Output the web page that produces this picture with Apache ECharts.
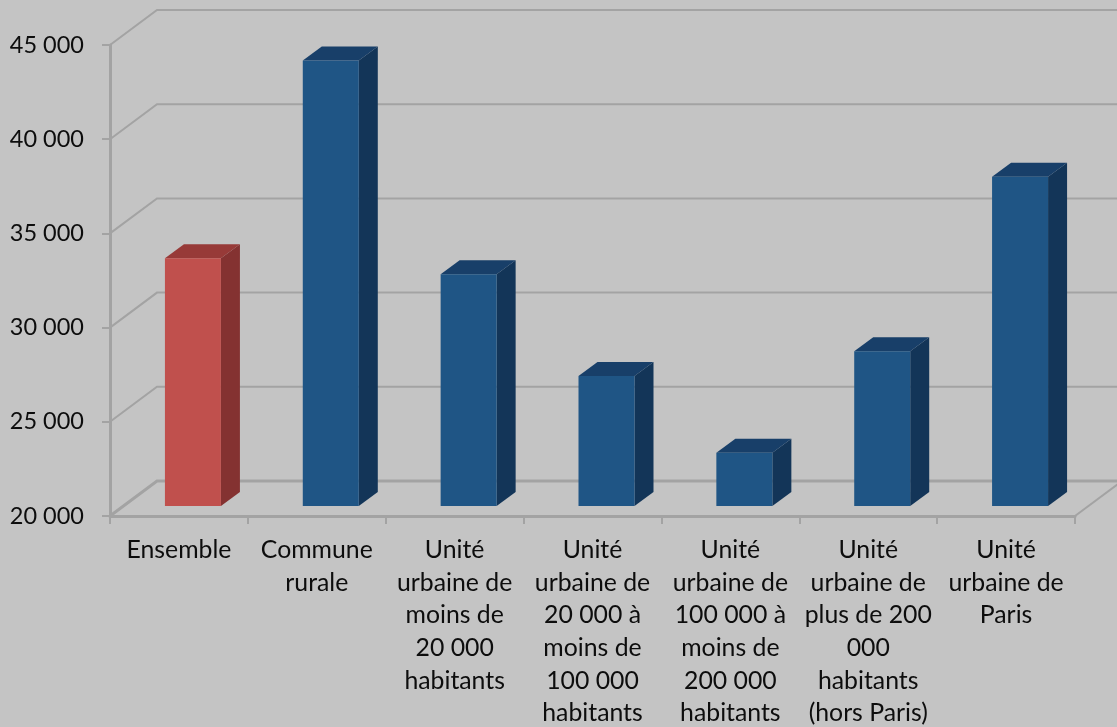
<!DOCTYPE html>
<html>
<head>
<meta charset="utf-8">
<style>
html, body { margin: 0; padding: 0; background: #c4c4c4; }
#main { width: 1117px; height: 727px; }
</style>
<script src="https://cdn.jsdelivr.net/npm/echarts@6/dist/echarts.min.js"></script>
</head>
<body>
<div id="main"></div>
<script>
var categories = [
	'Ensemble',
	'Commune\nrurale',
	'Unité\nurbaine de\nmoins de\n20 000\nhabitants',
	'Unité\nurbaine de\n20 000 à\nmoins de\n100 000\nhabitants',
	'Unité\nurbaine de\n100 000 à\nmoins de\n200 000\nhabitants',
	'Unité\nurbaine de\nplus de 200\n000\nhabitants\n(hors Paris)',
	'Unité\nurbaine de\nParis'
];
var values = [33150, 43640, 32300, 26900, 22820, 28220, 37480];
var yTicks = [20000, 25000, 30000, 35000, 40000, 45000];

var myChart = echarts.init(document.getElementById('main'));

var fontName = 'Lato';
var lineColor = '#a3a3a3';
// 3D look: wall sits behind the axes, bars stand partway into the floor
var wallDx = 47, wallDy = -35;
var barDx = 14, barDy = -10;
var depthDx = 19, depthDy = -14;
var barWidth = 56;

var renderWall = function(params, api){
	var v = api.value(0);
	var y = api.coord([0, v])[1];
	var cs = params.coordSys;
	var left = cs.x, right = cs.x + cs.width;
	var children = [{
		type: 'polyline',
		shape: {points: [[left, y], [left + wallDx, y + wallDy], [right + wallDx, y + wallDy]]},
		style: {stroke: lineColor, lineWidth: v === 20000 ? 3 : 2, fill: null}
	}];
	if(v === 20000){
		children.push({
			type: 'line',
			shape: {x1: right, y1: y, x2: right + wallDx, y2: y + wallDy},
			style: {stroke: lineColor, lineWidth: 2}
		});
	}
	return {type: 'group', children: children};
};

var renderBar = function(params, api){
	var i = api.value(0);
	var top = api.coord([i, api.value(1)]);
	var bottom = api.coord([i, 20000]);
	var x0 = top[0] - barWidth / 2 + barDx;
	var x1 = x0 + barWidth;
	var yt = top[1] + barDy;
	var yb = bottom[1] + barDy;
	var isTotal = i === 0;
	var front = isTotal ? '#c0504d' : '#1f5585';
	var side = isTotal ? '#843231' : '#133558';
	var cap = isTotal ? '#973a38' : '#183f69';
	return {
		type: 'group',
		children: [
			{
				type: 'polygon',
				shape: {points: [[x1, yt], [x1 + depthDx, yt + depthDy], [x1 + depthDx, yb + depthDy], [x1, yb]]},
				style: {fill: side}
			},
			{
				type: 'polygon',
				shape: {points: [[x0, yt], [x0 + depthDx, yt + depthDy], [x1 + depthDx, yt + depthDy], [x1, yt]]},
				style: {fill: cap}
			},
			{
				type: 'rect',
				shape: {x: x0, y: yt, width: barWidth, height: yb - yt},
				style: {fill: front}
			}
		]
	};
};

var option = {
	animation: false,
	backgroundColor: '#c4c4c4',
	grid: {left: 110, right: 42, top: 45, bottom: 211, outerBoundsMode: 'none'},
	xAxis: {
		type: 'category',
		data: categories,
		axisLine: {lineStyle: {color: lineColor, width: 3}},
		axisTick: {show: true, length: 8, lineStyle: {color: lineColor, width: 2}},
		axisLabel: {
			interval: 0,
			hideOverlap: false,
			margin: 18,
			color: '#0d0d0d',
			fontFamily: fontName,
			fontSize: 24.8,
			lineHeight: 32.6,
			verticalAlign: 'top'
		}
	},
	yAxis: {
		type: 'value',
		min: 20000,
		max: 45000,
		interval: 5000,
		splitLine: {show: false},
		axisLine: {show: true, lineStyle: {color: lineColor, width: 3}},
		axisTick: {show: true, length: 8, lineStyle: {color: lineColor, width: 2}},
		axisLabel: {
			margin: 26,
			color: '#0d0d0d',
			fontFamily: fontName,
			fontSize: 23.5,
			padding: [4, 0, 0, 0],
			formatter: function(v){
				return String(v).replace(/(\d{3})$/, ' $1');
			}
		}
	},
	series: [
		{
			type: 'custom',
			clip: false,
			silent: true,
			z: 1,
			renderItem: renderWall,
			data: yTicks.map(function(v){ return [v]; })
		},
		{
			type: 'custom',
			clip: false,
			z: 3,
			renderItem: renderBar,
			encode: {x: 0, y: 1},
			data: values.map(function(v, i){ return [i, v]; })
		}
	]
};
myChart.setOption(option);
</script>
</body>
</html>
